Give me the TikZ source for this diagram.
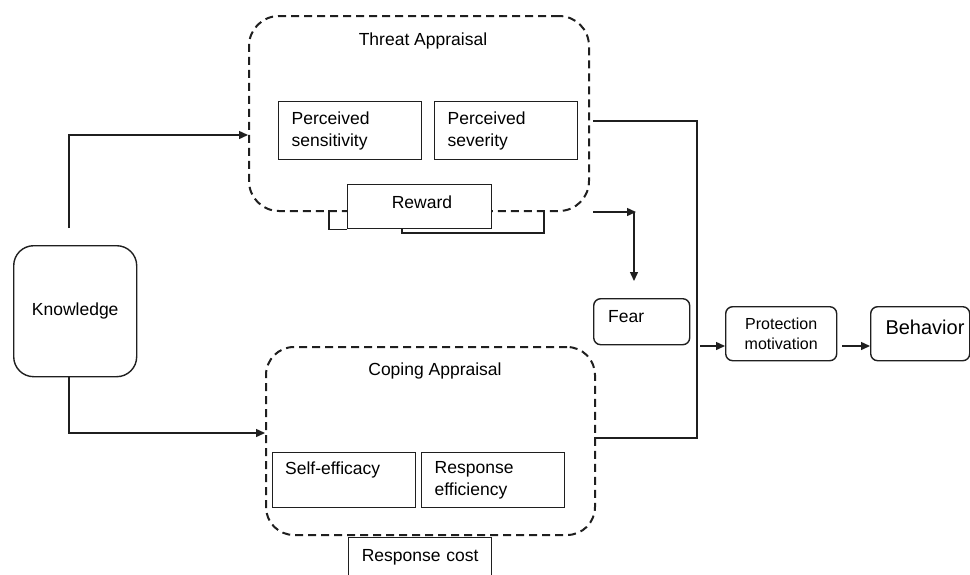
\documentclass[tikz,border=0pt]{standalone}
\usepackage{fontspec}
\setmainfont{Liberation Sans}
\usetikzlibrary{arrows.meta,calc}
\begin{document}
\begin{tikzpicture}[x=1pt,y=-1pt,font=\fontsize{17.5}{22}\selectfont,
  ln/.style={line width=1.4pt,draw=black!88},
  arr/.style={ln,-{Triangle[length=9pt,width=8pt]}},
  txt/.style={inner sep=0pt},
  dbox/.style={draw=black!88,line width=2pt,dash pattern=on 8pt off 5pt,anchor=north west,inner sep=0pt},
  sbox/.style={draw=black!88,line width=1.4pt,anchor=north west,inner sep=0pt,inner xsep=13pt,align=left,fill=white},
  rbox/.style={draw=black!88,line width=1.4pt,anchor=north west,inner sep=0pt,rounded corners=#1,align=center,fill=white},
  rbox/.default=7pt]
\useasboundingbox (0,0) rectangle (970,574);

% dashed groups
\node[dbox,rounded corners=30pt,minimum width=340pt,minimum height=195pt] (TA) at (248,15) {};
\node (TAt) at (423,41) {Threat Appraisal};
\node[dbox,rounded corners=28pt,minimum width=329pt,minimum height=188pt] (CA) at (265,346) {};
\node (CAt) at (435,371) {Coping Appraisal};

% inner boxes
\node[sbox,text width=117pt,minimum height=58pt] (PS) at (278,101) {Perceived\\sensitivity};
\node[sbox,text width=117pt,minimum height=58pt] (PV) at (434,101) {Perceived\\severity};
\node[sbox,minimum width=144pt,inner xsep=0pt,minimum height=44pt] (RW) at (347,184) {};
\node[txt] (RWt) at (422,202) {Reward};
\node[sbox,minimum width=143pt,inner xsep=0pt,minimum height=55pt] (SE) at (272,452) {};
\node[txt,anchor=west] (SEt) at (285,470) {Self-efficacy};
\node[sbox,text width=117pt,minimum height=55pt] (RE) at (421,452) {Response\\efficiency};
\node[sbox,text width=143pt,inner xsep=0pt,align=center,minimum height=40pt] (RC) at (348,537) {Response cost};

% rounded boxes
\node[rbox=20pt,minimum width=123pt,minimum height=131pt] (K) at (13,245) {Knowledge};
\node[rbox,minimum width=96pt,minimum height=46pt] (F) at (593,298) {};
\node[txt,anchor=west] (Ft) at (608,317) {Fear};
\node[rbox,minimum width=111pt,minimum height=54pt,font=\fontsize{16}{20}\selectfont] (PM) at (725,306) {Protection\\motivation};
\node[rbox,minimum width=99pt,minimum height=54pt] (B) at (870,306) {};
\node[txt,font=\fontsize{20}{22}\selectfont] (Bt) at (925,327) {Behavior};

% coordinates
\coordinate (k1) at (69,228);
\coordinate (t1) at (593,121);
\coordinate (c1) at (594,438);
\coordinate (j1) at (697,121);
\coordinate (j2) at (697,438);
\coordinate (j3) at (700,346);
\coordinate (t2) at (593,212);
\coordinate (f1) at (636,212);
\coordinate (f2) at (634,212);
\coordinate (f3) at (634,281);
\coordinate (r1) at (329,210);
\coordinate (r2) at (402,228);
\coordinate (r3) at (544,233);
\coordinate (r4) at (544,210);

% connectors
\draw[arr] (k1) |- (TA.west |- 0,135);
\draw[arr] (K.south -| k1) |- (CA.west |- 0,433);
\draw[ln] (t1) -- (j1) -- (j2) -- (c1);
\draw[arr] (j3) -- (PM.west |- j3);
\draw[arr] (PM.east |- j3) ++(5,0) -- (B.west |- j3);
\draw[arr] (t2) -- (f1);
\draw[arr] (f2) -- (f3);
\draw[ln] (r1) |- (RW.south west);
\draw[ln] (r2) |- (r3) -- (r4);
\end{tikzpicture}
\end{document}
